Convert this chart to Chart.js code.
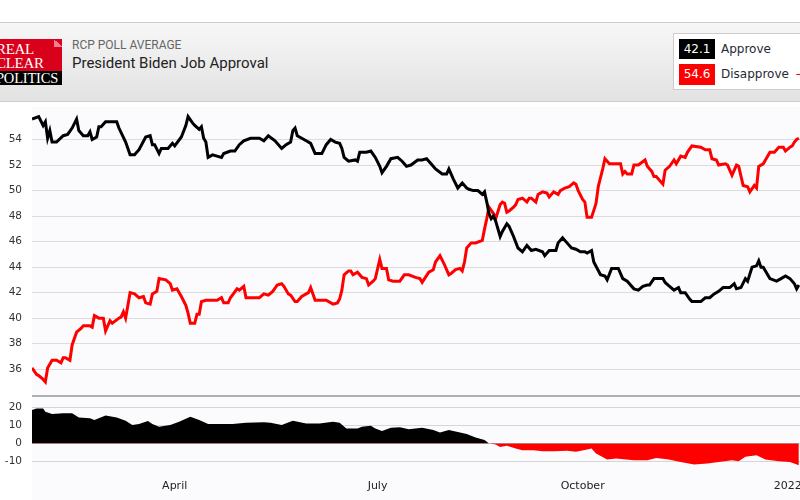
<!DOCTYPE html>
<html><head><meta charset="utf-8">
<script src="https://cdn.jsdelivr.net/npm/chart.js@4.4.0/dist/chart.umd.min.js"></script>
<style>
html,body{margin:0;padding:0;width:800px;height:500px;overflow:hidden;background:#fff;position:relative;}
#header{position:absolute;left:0;top:22px;width:800px;height:78px;border-top:1px solid #cdcdcd;border-bottom:1px solid #cdcdcd;background:linear-gradient(#f7f7f7,#e2e2e2);}
#logoRed{position:absolute;left:-4px;top:39px;width:66px;height:32px;background:#d9001b;overflow:hidden;}
#logoRed .t{position:absolute;left:0;color:#fff;font-family:"Liberation Serif",serif;font-size:15px;line-height:13px;letter-spacing:-0.3px;}
#fold2{position:absolute;right:0;top:0;width:8px;height:8px;background:linear-gradient(225deg,transparent 50%,#f08090 50%);}
#logoBlack{position:absolute;left:-4px;top:71px;width:66px;height:14px;background:#000;overflow:hidden;}
#logoBlack .t{position:absolute;left:0;top:0;color:#fff;font-family:"Liberation Serif",serif;font-size:14.5px;line-height:14px;letter-spacing:-0.2px;}
#sub{position:absolute;left:72px;top:39.4px;font-family:Roboto,sans-serif;font-size:12px;line-height:12px;color:#666;}
#title{position:absolute;left:72px;top:56.4px;font-family:Roboto,sans-serif;font-size:15px;line-height:15px;color:#222;}
#legend{position:absolute;left:673px;top:33px;width:150px;height:55px;background:#fff;border:1px solid #cccccc;}
.vbox{position:absolute;left:679px;width:36px;color:#fff;font-family:"DejaVu Sans",sans-serif;font-size:12px;text-align:center;}
.ltxt{position:absolute;left:721px;font-family:"DejaVu Sans",sans-serif;font-size:12px;color:#1f2a36;}
#plotbg{position:absolute;left:32px;top:107px;width:768px;height:393px;background:#fbfbfd;}
#sep{position:absolute;left:32px;top:395px;width:768px;height:2px;background:#b0b0b0;}
canvas{position:absolute;left:0;}
</style>
</head><body>
<div id="header"></div>
<div id="logoRed"><div id="fold2"></div><div class="t" style="top:4px">REAL</div><div class="t" style="top:18px">CLEAR</div></div>
<div id="logoBlack"><div class="t">POLITICS</div></div>
<div id="sub">RCP POLL AVERAGE</div>
<div id="title">President Biden Job Approval</div>
<div id="legend"></div>
<div class="vbox" style="top:39px;height:20px;line-height:20px;background:#000">42.1</div>
<div class="vbox" style="top:64px;height:21px;line-height:21px;background:#f00">54.6</div>
<div class="ltxt" style="top:40px;line-height:18px">Approve</div>
<div class="ltxt" style="top:65px;line-height:19px">Disapprove</div>
<div class="ltxt" style="top:65px;left:795px;line-height:19px;color:#f00">−</div>
<div id="plotbg"></div>
<canvas id="main" width="800" height="289" style="top:107px;width:800px;height:289px"></canvas>
<div id="sep"></div>
<canvas id="spread" width="800" height="103" style="top:397px;width:800px;height:103px"></canvas>
<script>
// days are counted from 2021-01-01 (day 0)
const approveDays = [26,29,31,32,33,34,35,37,40,42,44,46,47,49,51,52,53,55,56,57,59,64,65,68,70,72,74,77,79,80,81,83,84,87,89,90,93,95,96,98,99,101,102,103,104,105,107,109,111,112,115,117,119,121,124,128,130,132,135,138,140,142,143,144,145,148,149,151,153,156,158,160,162,164,165,166,168,171,172,173,176,178,180,182,183,185,187,190,192,194,196,199,201,203,205,207,210,212,213,215,217,218,219,221,222,224,226,228,229,230,231,232,233,234,236,237,239,240,242,244,246,248,250,252,255,256,258,261,262,264,266,268,270,272,274,275,277,278,281,283,284,286,289,291,293,296,298,300,302,303,305,309,310,312,314,316,317,319,321,322,326,328,330,332,334,336,339,341,342,344,346,347,349,351,352,353,354,357,360,362,364,366,368,369,370];
const approveVals = [55.6,55.8,55.1,55.4,54.1,54.7,53.8,53.8,54.3,54.4,54.9,55.6,54.7,54.3,54.3,54.6,54.0,54.2,55.0,55.0,55.4,55.4,54.9,53.8,52.8,52.8,53.2,54.2,54.3,53.6,53.6,52.9,53.3,53.3,53.7,53.5,54.2,55.1,55.8,55.3,55.1,54.8,55.0,54.1,53.8,52.6,52.8,52.7,52.6,52.9,53.1,53.1,53.6,53.9,54.1,54.1,53.9,54.3,53.9,53.3,53.6,53.8,54.7,54.9,54.3,54.0,53.9,53.7,52.9,52.9,53.6,54.0,53.8,53.7,53.3,52.6,52.3,52.4,52.3,53.0,53.0,53.1,52.6,51.9,51.4,51.9,52.5,52.6,52.3,51.9,52.0,52.4,52.4,52.5,52.1,51.7,51.3,51.3,51.7,50.9,50.2,50.4,50.6,50.2,50.1,50.0,50.0,49.7,49.9,49.1,48.2,47.8,48.0,47.6,46.4,46.8,47.4,47.2,46.4,45.5,45.2,45.7,45.3,45.4,45.2,44.9,45.3,45.3,45.9,46.3,45.9,45.5,45.4,45.2,45.2,45.1,45.3,44.4,43.4,43.3,43.0,43.9,43.9,43.1,42.9,42.3,42.2,42.5,42.6,42.6,43.1,43.1,42.8,42.5,42.2,42.4,42.0,42.0,41.5,41.3,41.3,41.6,41.6,41.9,42.1,42.4,42.4,42.7,42.3,42.4,43.1,42.9,44.0,44.1,44.5,44.0,44.0,43.1,42.9,43.1,43.3,43.1,42.7,42.3,42.6];
const disapproveDays = [26,28,29,31,32,33,35,37,39,40,41,43,44,46,48,49,52,53,54,56,58,59,61,62,65,66,67,68,70,72,74,76,77,79,80,82,83,86,88,89,91,93,95,96,97,99,100,101,102,104,106,109,111,112,114,115,118,119,121,122,124,128,130,132,134,136,138,139,141,142,144,145,147,149,150,151,153,156,158,161,163,164,165,166,168,169,170,172,174,176,177,179,180,182,183,185,186,188,191,193,195,198,200,201,204,206,207,209,211,213,214,216,218,219,220,221,223,225,228,229,230,231,233,234,236,237,238,239,240,242,243,244,246,248,249,250,252,253,255,257,258,260,262,263,265,267,269,270,271,273,274,275,277,279,280,282,283,285,287,290,291,292,293,295,296,298,301,302,304,305,306,309,310,312,314,315,317,319,320,322,326,328,330,331,333,334,337,338,340,342,343,345,347,348,350,351,352,354,355,357,359,361,363,364,366,367,368,369,370];
const disapproveVals = [36.1,35.6,35.5,35.2,35.0,36.1,36.7,36.7,36.5,36.9,36.9,36.7,37.9,38.9,39.2,39.4,39.4,39.3,40.2,40.0,40.0,39.0,39.8,39.6,40.0,40.1,40.5,40.0,42.0,41.9,41.6,41.7,41.2,41.1,41.9,42.1,43.1,43.0,42.7,42.2,42.3,41.7,41.0,40.4,39.6,39.6,40.3,40.3,41.3,41.4,41.4,41.4,41.6,41.2,41.2,41.6,42.3,42.2,42.5,41.6,41.6,41.6,41.9,41.8,42.1,42.6,42.7,42.5,41.9,41.8,41.3,41.3,41.7,41.9,42.0,42.4,41.4,41.4,41.4,41.1,41.2,41.5,42.2,43.4,43.7,43.7,43.4,43.6,43.2,43.1,42.6,42.9,43.1,44.6,43.9,43.9,43.0,42.9,42.9,43.4,43.4,43.2,43.1,42.8,43.6,43.8,44.4,44.9,44.2,43.4,43.5,43.8,43.9,43.7,44.4,45.5,45.9,45.9,46.1,47.0,47.8,48.7,48.2,47.8,48.9,49.1,49.0,48.3,48.4,48.7,48.9,49.3,49.4,49.1,49.4,49.4,49.1,49.7,49.9,49.8,49.5,49.9,49.7,50.0,50.2,50.3,50.6,50.5,50.0,49.3,49.1,47.9,47.9,49.0,50.3,51.7,52.5,52.1,52.1,52.1,51.3,51.5,51.3,51.3,52.0,52.0,52.4,51.9,51.5,51.1,51.1,50.5,51.6,51.9,52.4,52.1,52.7,52.6,53.0,53.5,53.4,53.2,53.2,52.5,52.4,52.0,52.1,52.0,51.2,52.0,51.9,50.4,50.3,49.9,50.4,50.2,51.9,52.1,52.4,53.0,53.0,53.4,53.4,53.1,53.4,53.5,53.8,54.0,54.1];
const spreadDays = [26,28,31,32,35,40,44,47,52,54,59,64,68,71,74,78,80,83,88,92,97,101,105,110,116,122,130,133,138,143,149,155,161,164,167,172,174,178,180,183,187,191,195,201,206,209,213,218,221,225,229,231,234,236,239,243,246,251,255,260,266,270,275,277,279,284,288,296,302,306,311,317,323,329,334,340,343,346,351,355,361,366,370];
const spreadVals = [18.5,19.3,19.3,17.6,16.3,16.7,16.7,14.4,13.9,13.0,15.4,14.4,12.6,10.2,10.7,12.4,10.7,9.3,10.2,12.0,14.8,13.0,10.7,10.7,10.7,11.5,11.7,11.5,10.2,12.6,11.1,11.1,12.0,11.5,8.3,8.3,9.3,9.8,8.3,6.9,8.7,8.9,7.8,8.7,7.4,6.1,7.4,6.1,5.2,3.3,1.9,0,-0.6,-1.9,-1.3,-2.8,-3.7,-3.7,-4.3,-4.3,-4.1,-4.6,-3.3,-2.8,-5.6,-8.9,-8.3,-9.3,-9.3,-8.0,-8.7,-10.2,-11.7,-11.1,-10.2,-9.3,-9.8,-7.4,-6.5,-8.9,-9.8,-10.2,-12.0];
const xTickDays = [90,181,273,365];
const xTickLabels = ['April','July','October','2022'];
const mainYTicks = [36,38,40,42,44,46,48,50,52,54];
const spreadYTicks = [-10,0,10,20];

const pts = (d, v) => d.map((x, i) => ({x: x, y: v[i]}));
Chart.defaults.font.family = 'DejaVu Sans';
const xRange = {min: 26, max: 370.5};
const zeroPad = s => { s.paddingTop = 0; s.paddingBottom = 0; s.paddingLeft = 0; s.paddingRight = 0; };

new Chart(document.getElementById('main'), {
  type: 'line',
  data: {datasets: [
    {data: pts(approveDays, approveVals), borderColor: '#000', borderWidth: 3, pointRadius: 0, tension: 0, fill: false},
    {data: pts(disapproveDays, disapproveVals), borderColor: '#ff0000', borderWidth: 3, pointRadius: 0, tension: 0, fill: false}
  ]},
  options: {
    responsive: false, animation: false, devicePixelRatio: 1,
    layout: {padding: 0},
    plugins: {legend: {display: false}, tooltip: {enabled: false}},
    scales: {
      x: {type: 'linear', min: xRange.min, max: xRange.max, display: false},
      y: {type: 'linear', min: 33.9, max: 56.55,
        afterBuildTicks: s => { s.ticks = mainYTicks.map(v => ({value: v})); },
        afterFit: s => { s.width = 32; zeroPad(s); },
        grid: {color: '#dcdcdc', lineWidth: 1, drawTicks: false},
        border: {display: false},
        ticks: {padding: 10, color: '#333', font: {size: 10.5}}
      }
    }
  }
});

new Chart(document.getElementById('spread'), {
  type: 'line',
  data: {datasets: [
    {data: pts(spreadDays, spreadVals), borderWidth: 0, borderColor: 'rgba(0,0,0,0)', pointRadius: 0, tension: 0,
     fill: {target: {value: 0}, above: '#000', below: '#ff0000'}}
  ]},
  options: {
    responsive: false, animation: false, devicePixelRatio: 1,
    layout: {padding: 0},
    plugins: {legend: {display: false}, tooltip: {enabled: false}},
    scales: {
      x: {type: 'linear', min: xRange.min, max: xRange.max,
        afterBuildTicks: s => { s.ticks = xTickDays.map(v => ({value: v})); },
        afterFit: s => { s.height = 26; zeroPad(s); },
        grid: {display: false, drawTicks: false},
        border: {display: false},
        ticks: {padding: 6, color: '#222', maxRotation: 0, autoSkip: false, font: {size: 11},
          callback: v => xTickLabels[xTickDays.indexOf(v)]}
      },
      y: {type: 'linear', min: -16.9, max: 25.7,
        afterBuildTicks: s => { s.ticks = spreadYTicks.map(v => ({value: v})); },
        afterFit: s => { s.width = 32; zeroPad(s); },
        grid: {color: '#d6d6d6', lineWidth: 1, drawTicks: false},
        border: {display: false},
        ticks: {padding: 10, color: '#333', font: {size: 10.5}}
      }
    }
  }
});
</script>
</body></html>
